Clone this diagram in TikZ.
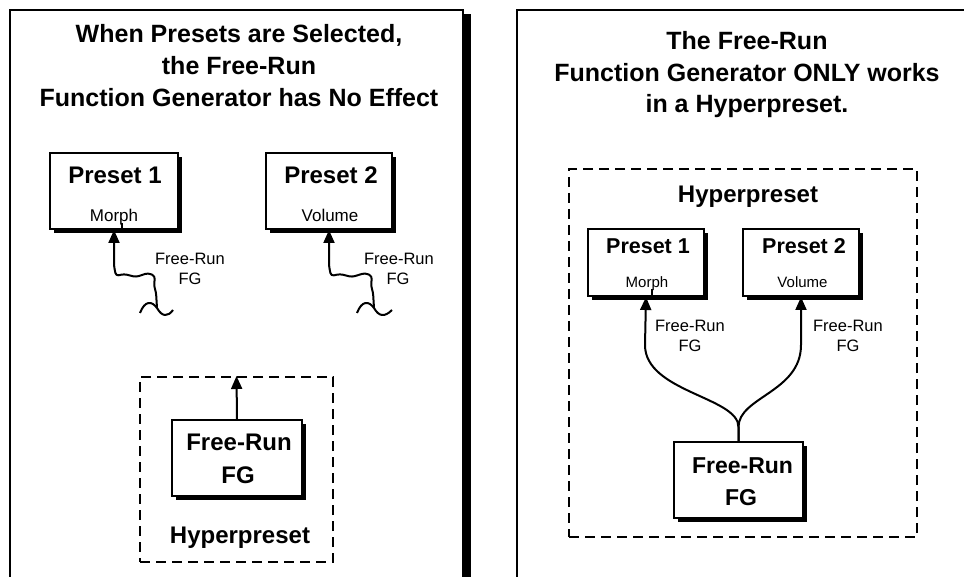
\documentclass[tikz,border=0pt]{standalone}
\usepackage{fontspec}
\setmainfont{Liberation Sans}
\usetikzlibrary{arrows.meta,shadows}
\newcommand{\fsz}[1]{\fontsize{#1}{#1}\selectfont}
\tikzset{
  frame/.style={line width=2pt},
  box/.style={draw, line width=2pt, fill=white, inner sep=0pt,
    drop shadow={shadow xshift=4pt, shadow yshift=-4pt, fill=black, opacity=1}},
  hyper/.style={draw, line width=2pt, dash pattern=on 10pt off 6pt, inner sep=0pt},
  conn/.style={line width=2pt, line join=round},
  arr/.style={conn, -{Triangle[length=13pt,width=11pt]}},
  ttl/.style={font=\bfseries\fsz{25}, anchor=base, inner sep=0pt},
  big/.style={font=\bfseries\fsz{24}, anchor=base, inner sep=0pt},
  mid/.style={font=\bfseries\fsz{21.5}, anchor=base, inner sep=0pt},
  sml/.style={font=\fsz{17}, anchor=base, inner sep=0pt},
  lbl/.style={font=\fsz{16.5}, anchor=base, inner sep=0pt},
}
\begin{document}
\begin{tikzpicture}[x=1pt,y=-1pt]
\path[use as bounding box] (0,0) rectangle (964,577);
\clip (0,0) rectangle (964,577);
\fill[white] (0,0) rectangle (964,577);

% ---------------- left panel ----------------
\draw[frame] (10,600) -- (10,10) -- (463,10) -- (463,600);
\fill (463,14) rectangle (471,600);

\node[ttl] (lt1) at (239,43) {When Presets are Selected,};
\node[ttl] (lt2) at (239,75) {the Free-Run};
\node[ttl] (lt3) at (239,107) {Function Generator has No Effect};

\node[box, minimum width=128pt, minimum height=76pt] (lp1) at (114,191) {};
\node[big] (lp1t) at (115,184) {Preset 1};
\node[sml] (lp1s) at (114,222) {Morph};
\draw[conn, line width=1.5pt] (122,223) -- (lp1.south -| 122,0);

\node[box, minimum width=126pt, minimum height=76pt] (lp2) at (329,191) {};
\node[big] (lp2t) at (331,184) {Preset 2};
\node[sml] (lp2s) at (330,222) {Volume};

% wavy free-run connectors (disconnected)
\coordinate (w1) at (140,313);
\draw[conn] (w1) .. controls (145,300) and (152,301) .. (157,308)
  .. controls (162,317) and (168,317) .. (173,310);
\draw[arr, rounded corners=3pt] (157,308) -- (156,292) -- (154,286) -- (155,276)
  -- (148,273) -- (136,277) -- (124,274) -- (116,276) -- (114,266) -- (lp1.south);
\node[lbl] (lf1a) at (190,265) {Free-Run};
\node[lbl] (lf1b) at (190,285) {FG};

\coordinate (w2) at (357,313);
\draw[conn] (w2) .. controls (362,300) and (369,301) .. (374,308)
  .. controls (379,317) and (385,317) .. (392,310);
\draw[arr, rounded corners=3pt] (374,308) -- (373,292) -- (371,286) -- (372,276)
  -- (365,273) -- (352,277) -- (340,274) -- (331,276) -- (329,266) -- (lp2.south);
\node[lbl] (lf2a) at (399,265) {Free-Run};
\node[lbl] (lf2b) at (398,285) {FG};

% left hyperpreset
\node[hyper, minimum width=193pt, minimum height=185pt] (lh) at (236.5,469.5) {};
\node[box, minimum width=130pt, minimum height=76pt] (lfg) at (237,458) {};
\node[big] (lfgt1) at (239,450) {Free-Run};
\node[big] (lfgt2) at (238,483) {FG};
\draw[arr] (lfg.north) -- (lh.north);
\node[big] (lht) at (240,543) {Hyperpreset};

% ---------------- right panel ----------------
\draw[frame] (517,600) -- (517,10) -- (970,10);

\node[ttl] (rt1) at (747,50) {The Free-Run};
\node[ttl] (rt2) at (747,82) {Function Generator ONLY works};
\node[ttl] (rt3) at (747,113) {in a Hyperpreset.};

\node[hyper, minimum width=348pt, minimum height=368pt] (rh) at (743,353) {};
\node[big] (rht) at (748,203) {Hyperpreset};

\node[box, minimum width=116pt, minimum height=67pt] (rp1) at (646,262.5) {};
\node[mid] (rp1t) at (648,254) {Preset 1};
\node[font=\fsz{15}, anchor=base, inner sep=0pt] (rp1s) at (647,288) {Morph};
\draw[conn, line width=1.5pt] (652,289) -- (rp1.south -| 652,0);

\node[box, minimum width=116pt, minimum height=67pt] (rp2) at (801,262.5) {};
\node[mid] (rp2t) at (804,254) {Preset 2};
\node[font=\fsz{15}, anchor=base, inner sep=0pt] (rp2s) at (802.5,288) {Volume};

\node[box, minimum width=129pt, minimum height=76pt] (rfg) at (738.5,480) {};
\node[font=\bfseries\fsz{23}, anchor=base, inner sep=0pt] (rfgt1) at (742.5,473) {Free-Run};
\node[font=\bfseries\fsz{23}, anchor=base, inner sep=0pt] (rfgt2) at (741,505) {FG};

\draw[arr] (rfg.north) -- ++(0,-14) .. controls +(0,-30) and (645,392) .. (645,345) -- (rp1.south);
\draw[arr] (rfg.north) -- ++(0,-14) .. controls +(0,-30) and (801,392) .. (801,345) -- (rp2.south);

\node[lbl] (rf1a) at (690,332) {Free-Run};
\node[lbl] (rf1b) at (690,352) {FG};
\node[lbl] (rf2a) at (848,332) {Free-Run};
\node[lbl] (rf2b) at (848,352) {FG};
\end{tikzpicture}
\end{document}
